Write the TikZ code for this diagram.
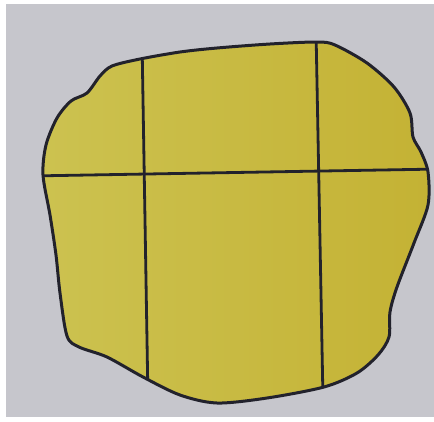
\documentclass[tikz,border=0pt]{standalone}
\definecolor{paper}{RGB}{198,198,204}
\definecolor{blobleft}{RGB}{204,194,80}
\definecolor{blobright}{RGB}{196,178,52}
\definecolor{ink}{RGB}{34,34,44}
\begin{document}
\begin{tikzpicture}[x=1pt,y=-1pt,
  outline/.style={draw=ink,line width=3pt,line join=round},
  gridline/.style={draw=ink,line width=2.8pt}]
\useasboundingbox (0,0) rectangle (434,421);
\fill[white] (0,0) rectangle (434,421);
\fill[paper] (6,4) rectangle (434,417);
\def\blob{plot[smooth cycle,tension=0.5] coordinates {(43,175) (46,145) (57,118) (71,101) (87,93) (100,76) (112,66) (140,59) (180,52) (217,48) (270,44) (317,42) (335,45) (367,63) (394,87) (410,113) (413,137) (421,152) (428,172) (428,205) (414,243) (397,287) (390,312) (389,337) (378,355) (357,373) (324,387) (267,398) (217,403) (180,395) (143,377) (107,357) (79,347) (67,336) (60,293) (56,255) (50,215)}}
\shade[left color=blobleft,right color=blobright] \blob;
\begin{scope}
\clip \blob;
\coordinate (v1t) at (142,40);
\coordinate (v1b) at (148,400);
\coordinate (v2t) at (316,30);
\coordinate (v2b) at (323,400);
\coordinate (hl) at (30,176);
\coordinate (hr) at (440,169);
\draw[gridline] (v1t) -- (v1b);
\draw[gridline] (v2t) -- (v2b);
\draw[gridline] (hl) -- (hr);
\end{scope}
\draw[outline] \blob;
\end{tikzpicture}
\end{document}
